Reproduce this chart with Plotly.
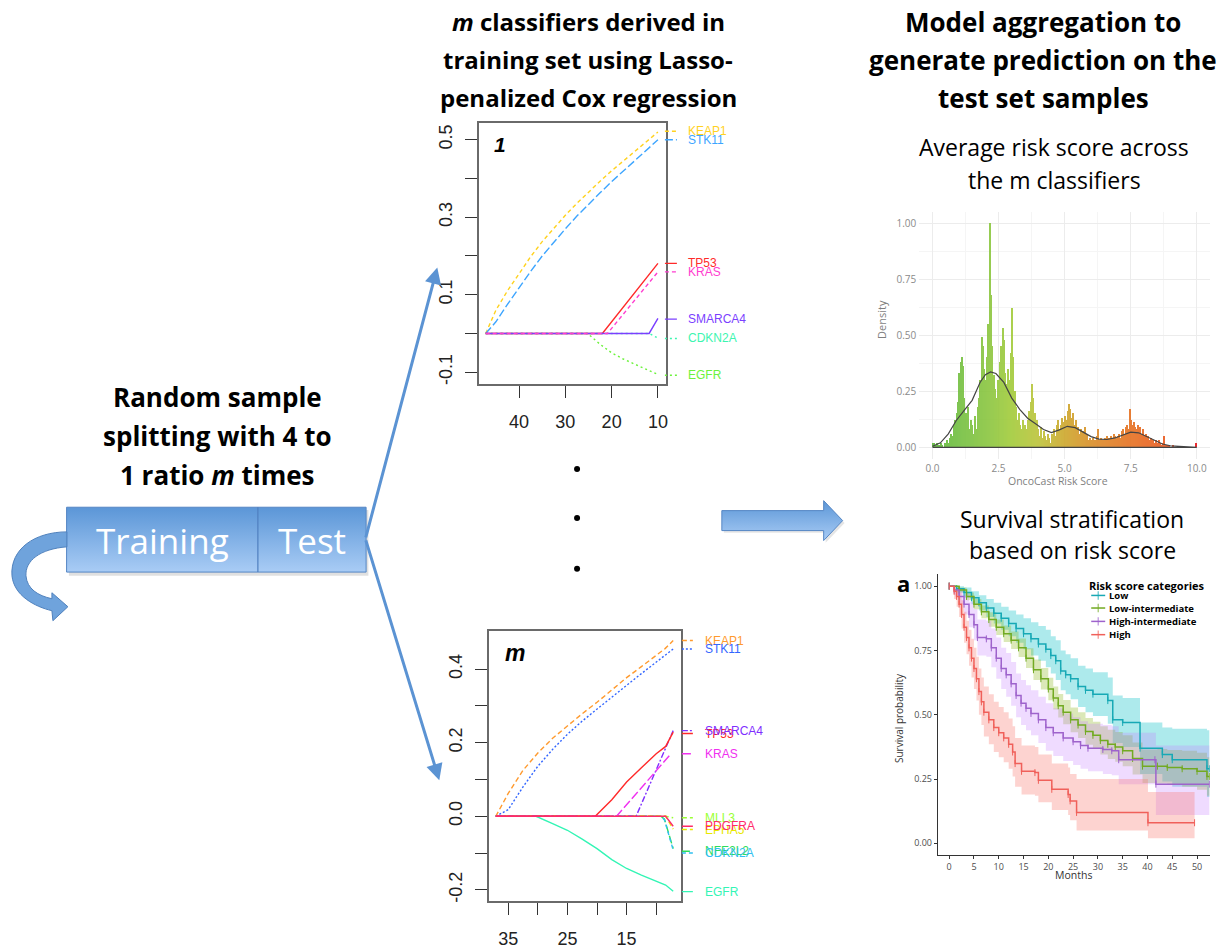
import plotly.graph_objects as go

W, H = 1231, 949


def fx(x):
    return x / W


def fy(y):
    return 1 - y / H


# ================= DATA =================
# ---- Lasso path, classifier 1 (x: lambda / number, y: coefficient)
p1_keap1_lam = [47.2, 45, 42.5, 40, 37.5, 35, 32.5, 30, 27.5, 25, 22.5, 20, 17.5, 15, 12.5, 10]
p1_keap1_coef = [0, 0.06, 0.11, 0.155, 0.198, 0.237, 0.272, 0.305, 0.336, 0.365, 0.393, 0.42, 0.446, 0.47, 0.495, 0.52]
p1_stk11_lam = [47.2, 45, 42.5, 40, 37.5, 35, 32.5, 30, 27.5, 25, 22.5, 20, 17.5, 15, 12.5, 10]
p1_stk11_coef = [0, 0.03, 0.075, 0.118, 0.16, 0.2, 0.236, 0.27, 0.303, 0.334, 0.363, 0.392, 0.419, 0.445, 0.472, 0.50]
p1_tp53_lam = [47.2, 22.0, 10]
p1_tp53_coef = [0, 0, 0.181]
p1_kras_lam = [47.2, 20.9, 10]
p1_kras_coef = [0, 0, 0.159]
p1_smarca4_lam = [47.2, 11.9, 10]
p1_smarca4_coef = [0, 0, 0.039]
p1_cdkn2a_lam = [47.2, 11.9, 10]
p1_cdkn2a_coef = [0, 0, -0.012]
p1_egfr_lam = [47.2, 25.2, 22.5, 20, 17.5, 15, 12.5, 10]
p1_egfr_coef = [0, 0, -0.028, -0.05, -0.066, -0.079, -0.093, -0.106]

p1_label_names = ["KEAP1", "STK11", "TP53", "KRAS", "SMARCA4", "CDKN2A", "EGFR"]
p1_label_values = [0.522, 0.50, 0.181, 0.159, 0.037, -0.013, -0.108]
p1_x_ticks = [40, 30, 20, 10]
p1_y_ticks = [-0.1, 0, 0.1, 0.2, 0.3, 0.4, 0.5]
p1_y_ticktext = ["-0.1", "", "0.1", "", "0.3", "", "0.5"]

# ---- Lasso path, classifier m
pm_keap1_lam = [37.1, 35, 32.5, 30, 27.5, 25, 22.5, 20, 17.5, 15, 12.5, 10, 8.5, 7.13]
pm_keap1_coef = [0, 0.062, 0.125, 0.172, 0.212, 0.246, 0.279, 0.31, 0.344, 0.377, 0.407, 0.437, 0.456, 0.478]
pm_stk11_lam = [37.1, 35, 32.5, 30, 27.5, 25, 22.5, 20, 17.5, 15, 12.5, 10, 8.5, 7.13]
pm_stk11_coef = [0, 0.018, 0.08, 0.136, 0.182, 0.223, 0.259, 0.292, 0.324, 0.356, 0.388, 0.419, 0.437, 0.455]
pm_tp53_lam = [37.1, 20.3, 17.5, 15, 12.5, 10, 8.4, 7.13]
pm_tp53_coef = [0, 0, 0.045, 0.093, 0.132, 0.17, 0.19, 0.229]
pm_kras_lam = [37.1, 16.7, 7.5]
pm_kras_coef = [0, 0, 0.17]
pm_smarca4_lam = [37.1, 13.4, 7.13]
pm_smarca4_coef = [0, 0, 0.233]
pm_mll3_lam = [37.1, 8.4, 7.13]
pm_mll3_coef = [0, 0, -0.004]
pm_pdgfra_lam = [37.1, 8.4, 7.13]
pm_pdgfra_coef = [0, 0, -0.027]
pm_epha5_lam = [37.1, 8.4, 7.13]
pm_epha5_coef = [0, 0, -0.035]
pm_nfe2l2_lam = [37.1, 9.2, 8.6, 7.13]
pm_nfe2l2_coef = [0, 0, -0.008, -0.088]
pm_cdkn2a_lam = [37.1, 9.2, 8.6, 7.13]
pm_cdkn2a_coef = [0, 0, -0.01, -0.092]
pm_egfr_lam = [37.1, 30.3, 27.5, 25, 22.5, 20, 17.5, 15, 12.5, 10, 8.4, 7.13]
pm_egfr_coef = [0, 0, -0.02, -0.038, -0.062, -0.088, -0.118, -0.142, -0.16, -0.176, -0.187, -0.204]

pm_label_names = ["KEAP1", "STK11", "TP53", "SMARCA4", "KRAS", "MLL3", "EPHA5", "PDGFRA", "NFE2L2", "CDKN2A", "EGFR"]
pm_label_values = [0.478, 0.455, 0.225, 0.233, 0.17, -0.004, -0.036, -0.027, -0.095, -0.1, -0.205]
pm_x_ticks = [35, 30, 25, 20, 15, 10]
pm_x_ticktext = ["35", "", "25", "", "15", ""]
pm_y_ticks = [-0.2, -0.1, 0, 0.1, 0.2, 0.3, 0.4]
pm_y_ticktext = ["-0.2", "", "0.0", "", "0.2", "", "0.4"]

# ---- Histogram of average risk score (bin width 0.05 from 0 to 10)
hist_bin_start = 0.0
hist_bin_width = 0.05
hist_density = [
    0.02, 0.02, 0.01, 0.02, 0.0, 0.01, 0.02, 0.01, 0.0, 0.02,
    0.02, 0.03, 0.02, 0.04, 0.06, 0.05, 0.10, 0.12, 0.15, 0.20,
    0.33, 0.38, 0.40, 0.36, 0.22, 0.15, 0.12, 0.18, 0.08, 0.12,
    0.10, 0.06, 0.14, 0.08, 0.18, 0.22, 0.30, 0.49, 0.45, 0.35,
    0.30, 0.40, 0.55, 1.00, 0.68, 0.45, 0.32, 0.26, 0.22, 0.30,
    0.25, 0.38, 0.45, 0.53, 0.48, 0.33, 0.28, 0.35, 0.30, 0.42,
    0.62, 0.40, 0.25, 0.18, 0.12, 0.15, 0.10, 0.08, 0.12, 0.06,
    0.10, 0.08, 0.12, 0.16, 0.20, 0.28, 0.22, 0.15, 0.10, 0.12,
    0.08, 0.05, 0.09, 0.04, 0.07, 0.05, 0.03, 0.06, 0.04, 0.02,
    0.06, 0.04, 0.08, 0.05, 0.10, 0.12, 0.08, 0.10, 0.13, 0.11,
    0.14, 0.12, 0.16, 0.19, 0.17, 0.13, 0.15, 0.10, 0.12, 0.08,
    0.09, 0.06, 0.08, 0.05, 0.07, 0.09, 0.04, 0.06, 0.03, 0.04,
    0.03, 0.04, 0.02, 0.03, 0.05, 0.08, 0.03, 0.04, 0.02, 0.03,
    0.04, 0.03, 0.05, 0.04, 0.03, 0.05, 0.04, 0.06, 0.05, 0.04,
    0.05, 0.06, 0.04, 0.07, 0.08, 0.06, 0.09, 0.10, 0.08, 0.17,
    0.12, 0.10, 0.11, 0.09, 0.08, 0.10, 0.07, 0.09, 0.06, 0.08,
    0.05, 0.06, 0.04, 0.05, 0.03, 0.04, 0.02, 0.03, 0.02, 0.03,
    0.02, 0.03, 0.02, 0.01, 0.02, 0.05, 0.01, 0.01, 0.0, 0.01,
    0.0, 0.0, 0.005, 0.0, 0.0, 0.0, 0.0, 0.0, 0.0, 0.0,
    0.0, 0.0, 0.0, 0.0, 0.0, 0.0, 0.0, 0.0, 0.0, 0.02,
]
dens_x = [0, 0.3, 0.6, 0.9, 1.2, 1.5, 1.8, 2.0, 2.2, 2.4, 2.7, 3.0, 3.3, 3.6, 3.9, 4.2, 4.5, 4.8, 5.1,
          5.4, 5.7, 6.0, 6.3, 6.6, 6.9, 7.2, 7.5, 7.8, 8.1, 8.4, 8.7, 9.0, 9.5, 10, 10, 0]
dens_y = [0.005, 0.02, 0.06, 0.12, 0.165, 0.21, 0.29, 0.325, 0.337, 0.33, 0.29, 0.22, 0.17, 0.13, 0.105,
          0.08, 0.066, 0.078, 0.094, 0.088, 0.068, 0.048, 0.037, 0.035, 0.042, 0.055, 0.068, 0.065,
          0.048, 0.03, 0.015, 0.007, 0.002, 0.0, 0.0, 0.0]
hist_x_ticks = [0, 2.5, 5, 7.5, 10]
hist_x_ticktext = ["0.0", "2.5", "5.0", "7.5", "10.0"]
hist_y_ticks = [0, 0.25, 0.5, 0.75, 1.0]
hist_y_ticktext = ["0.00", "0.25", "0.50", "0.75", "1.00"]

# ---- Kaplan-Meier curves by risk score category
km_groups = ["Low", "Low-intermediate", "High-intermediate", "High"]
km_low_t = [0, 1.5, 3, 4.5, 6, 7.5, 9, 10.5, 12, 13.5, 15, 16.5, 18, 19.5, 20.5, 21.5, 22.5, 23.5, 24.5, 26,
            27.5, 29, 32, 33, 35, 38.5, 43, 45, 52, 52.5]
km_low_s = [1, .99, .975, .955, .935, .915, .895, .875, .855, .835, .815, .795, .775, .755, .73, .71, .67, .655,
            .64, .61, .595, .58, .555, .48, .47, .37, .345, .325, .29, .29]
km_low_lo = [1, .975, .955, .93, .905, .88, .855, .83, .805, .78, .755, .73, .71, .685, .66, .635, .595, .58,
             .56, .53, .51, .495, .465, .39, .375, .27, .24, .22, .18, .18]
km_low_up = [1, 1.0, .995, .98, .965, .95, .935, .92, .905, .89, .875, .86, .845, .83, .805, .79, .75, .735,
             .72, .69, .68, .665, .645, .575, .565, .47, .45, .445, .44, .44]

km_lowint_t = [0, 2, 3.5, 5, 6.5, 8, 9.5, 11, 12.5, 14, 15.5, 17, 18.5, 20, 21, 22, 23, 24.5, 26, 27.5, 29,
               30.5, 32, 33.5, 35, 37, 39, 42, 44, 47, 50, 52, 52.5]
km_lowint_s = [1, .985, .96, .93, .90, .87, .84, .815, .79, .76, .72, .675, .64, .60, .565, .535, .51, .48,
               .46, .435, .42, .40, .385, .375, .36, .33, .30, .30, .295, .29, .28, .26, .26]
km_lowint_lo = [1, .975, .945, .91, .875, .842, .81, .783, .756, .724, .682, .635, .598, .556, .52, .489,
                .463, .432, .41, .383, .367, .345, .328, .317, .30, .268, .235, .233, .227, .22, .208, .185, .185]
km_lowint_up = [1, .995, .975, .95, .925, .898, .87, .847, .824, .796, .758, .715, .682, .644, .61, .581,
                .557, .528, .51, .487, .473, .455, .442, .433, .42, .392, .365, .367, .363, .36, .352, .335, .335]

km_highint_t = [0, 1, 2, 3, 4, 5, 5.7, 7.5, 8.5, 9.5, 10.5, 11.5, 12.5, 13.5, 14.5, 15.5, 16.5, 18, 19.5, 21,
                23, 25, 26.5, 28, 31, 32.8, 34.2, 41.5, 41.7, 52.5]
km_highint_s = [1, .985, .96, .93, .89, .85, .80, .795, .76, .72, .68, .655, .62, .575, .545, .525, .505,
                .48, .45, .43, .41, .395, .38, .37, .365, .36, .325, .325, .23, .23]
km_highint_lo = [1, .965, .93, .89, .84, .79, .73, .725, .685, .64, .60, .57, .535, .49, .46, .44, .42, .39,
                 .36, .34, .32, .305, .29, .28, .27, .265, .23, .23, .11, .11]
km_highint_up = [1, 1.0, .99, .97, .94, .91, .87, .865, .835, .80, .76, .74, .705, .66, .635, .615, .595,
                 .57, .545, .525, .505, .49, .475, .465, .46, .455, .43, .43, .38, .38]

km_high_t = [0, 1, 1.5, 2, 2.5, 3, 3.5, 4, 4.5, 5, 5.5, 6, 6.5, 7, 8, 9, 10, 11, 12, 12.8, 13.3, 14.6,
             17.3, 18, 20.7, 24, 24.4, 25.7, 40.1, 49.5]
km_high_s = [1, .98, .96, .93, .89, .84, .80, .76, .72, .68, .64, .59, .55, .51, .48, .45, .43, .41, .385,
             .355, .31, .28, .275, .245, .21, .19, .165, .12, .08, .08]
km_high_lo = [1, .95, .92, .88, .835, .78, .735, .69, .645, .6, .555, .5, .46, .415, .385, .355, .335, .315,
              .29, .26, .22, .19, .185, .16, .13, .11, .09, .05, .02, .02]
km_high_up = [1, 1.0, .995, .975, .945, .9, .865, .83, .795, .76, .725, .68, .645, .61, .58, .55, .53, .51,
              .485, .455, .41, .38, .375, .345, .31, .295, .27, .25, .2, .2]

km_x_ticks = [0, 5, 10, 15, 20, 25, 30, 35, 40, 45, 50]
km_y_ticks = [0, 0.25, 0.5, 0.75, 1.0]
km_y_ticktext = ["0.00", "0.25", "0.50", "0.75", "1.00"]

# ================= STYLE =================
LASSO_FONT = "Liberation Sans"
TITLE_FONT = "Open Sans"
GG_FONT = "Open Sans"
ARROW_BLUE = "#5B93D3"

fig = go.Figure()


def lasso_line(lam, coef, color, dash, xa, ya):
    fig.add_trace(go.Scatter(x=lam, y=coef, mode="lines", line=dict(color=color, dash=dash, width=1.4),
                             xaxis=xa, yaxis=ya, showlegend=False, hoverinfo="skip"))


# ---- panel 1 lines
p1_styles = {
    "KEAP1": ("#FFD21F", "4px,3px"), "STK11": ("#3DA5FF", "8px,3px"), "TP53": ("#FF2A2A", "solid"),
    "KRAS": ("#FF3DD0", "4px,3px"), "SMARCA4": ("#7B3FFF", "solid"), "CDKN2A": ("#3DF5B0", "2px,3px"),
    "EGFR": ("#6CF23C", "2px,3px"),
}
lasso_line(p1_egfr_lam, p1_egfr_coef, *p1_styles["EGFR"], "x", "y")
lasso_line(p1_cdkn2a_lam, p1_cdkn2a_coef, *p1_styles["CDKN2A"], "x", "y")
lasso_line(p1_keap1_lam, p1_keap1_coef, *p1_styles["KEAP1"], "x", "y")
lasso_line(p1_stk11_lam, p1_stk11_coef, *p1_styles["STK11"], "x", "y")
lasso_line(p1_tp53_lam, p1_tp53_coef, *p1_styles["TP53"], "x", "y")
lasso_line(p1_smarca4_lam, p1_smarca4_coef, *p1_styles["SMARCA4"], "x", "y")
lasso_line(p1_kras_lam, p1_kras_coef, *p1_styles["KRAS"], "x", "y")

# ---- panel m lines
pm_styles = {
    "KEAP1": ("#FF9A2E", "5px,3px"), "STK11": ("#3366FF", "2px,2px"), "TP53": ("#FF2A2A", "solid"),
    "SMARCA4": ("#7F2FFF", "6px,2px,2px,2px"), "KRAS": ("#F030F0", "9px,3px"), "MLL3": ("#99FF33", "5px,3px"),
    "EPHA5": ("#E8E800", "5px,3px"), "PDGFRA": ("#FF2A6A", "solid"), "NFE2L2": ("#2EDC5A", "8px,3px"),
    "CDKN2A": ("#30C0F0", "4px,3px"), "EGFR": ("#33F5B5", "solid"),
}
lasso_line(pm_egfr_lam, pm_egfr_coef, *pm_styles["EGFR"], "x2", "y2")
lasso_line(pm_keap1_lam, pm_keap1_coef, *pm_styles["KEAP1"], "x2", "y2")
lasso_line(pm_stk11_lam, pm_stk11_coef, *pm_styles["STK11"], "x2", "y2")
lasso_line(pm_nfe2l2_lam, pm_nfe2l2_coef, *pm_styles["NFE2L2"], "x2", "y2")
lasso_line(pm_cdkn2a_lam, pm_cdkn2a_coef, *pm_styles["CDKN2A"], "x2", "y2")
lasso_line(pm_mll3_lam, pm_mll3_coef, *pm_styles["MLL3"], "x2", "y2")
lasso_line(pm_epha5_lam, pm_epha5_coef, *pm_styles["EPHA5"], "x2", "y2")
lasso_line(pm_smarca4_lam, pm_smarca4_coef, *pm_styles["SMARCA4"], "x2", "y2")
lasso_line(pm_kras_lam, pm_kras_coef, *pm_styles["KRAS"], "x2", "y2")
lasso_line(pm_tp53_lam, pm_tp53_coef, *pm_styles["TP53"], "x2", "y2")
lasso_line(pm_pdgfra_lam, pm_pdgfra_coef, *pm_styles["PDGFRA"], "x2", "y2")

# ---- histogram
hist_x = [hist_bin_start + hist_bin_width * (i + 0.5) for i in range(len(hist_density))]
fig.add_trace(go.Bar(
    x=hist_x, y=hist_density, width=hist_bin_width * 0.95, xaxis="x3", yaxis="y3", showlegend=False,
    hoverinfo="skip", opacity=0.9,
    marker=dict(color=hist_x, cmin=0, cmax=10, line=dict(width=0),
                colorscale=[[0, "#5DB83A"], [0.1, "#72BF40"], [0.22, "#8CC63F"], [0.3, "#A2CB3A"],
                            [0.4, "#BCC43A"], [0.5, "#CDA82C"], [0.62, "#DB8A27"], [0.75, "#E67222"],
                            [0.88, "#EA5A1F"], [1, "#E8141A"]]),
))
fig.add_trace(go.Scatter(x=dens_x, y=dens_y, mode="lines", line=dict(color="#444444", width=1.2),
                         xaxis="x3", yaxis="y3", showlegend=False, hoverinfo="skip"))

# ---- Kaplan-Meier
km_line_colors = ["#17A9B5", "#72AA22", "#9E63CC", "#F0605A"]
km_fill_colors = ["rgba(0,191,196,0.32)", "rgba(124,174,0,0.28)", "rgba(199,124,255,0.28)",
                  "rgba(248,118,109,0.32)"]
km_data = [
    (km_low_t, km_low_s, km_low_lo, km_low_up),
    (km_lowint_t, km_lowint_s, km_lowint_lo, km_lowint_up),
    (km_highint_t, km_highint_s, km_highint_lo, km_highint_up),
    (km_high_t, km_high_s, km_high_lo, km_high_up),
]
for (t, s, lo, up), fc in zip(km_data, km_fill_colors):
    fig.add_trace(go.Scatter(x=t, y=lo, mode="lines", line=dict(width=0, shape="hv"), xaxis="x4",
                             yaxis="y4", showlegend=False, hoverinfo="skip"))
    fig.add_trace(go.Scatter(x=t, y=up, mode="lines", line=dict(width=0, shape="hv"), fill="tonexty",
                             fillcolor=fc, xaxis="x4", yaxis="y4", showlegend=False, hoverinfo="skip"))
for (t, s, lo, up), lc in zip(km_data, km_line_colors):
    fig.add_trace(go.Scatter(x=t, y=s, mode="lines+markers", line=dict(width=1.5, color=lc, shape="hv"),
                             marker=dict(symbol="line-ns-open", size=5, line=dict(width=1, color=lc)),
                             xaxis="x4", yaxis="y4", showlegend=False, hoverinfo="skip"))

# ---- overlay (pixel coordinates) decorations
fig.add_trace(go.Scatter(x=[69, 369, 369, 69, 69], y=[511, 511, 577, 577, 511], fill="toself",
                         fillcolor="rgba(0,0,0,0.12)", line=dict(width=0), mode="lines",
                         xaxis="x5", yaxis="y5", showlegend=False, hoverinfo="skip"))
fig.add_trace(go.Scatter(x=[66.7, 366.7, 366.7, 66.7, 66.7], y=[508.3, 508.3, 573.3, 573.3, 508.3],
                         fill="toself", mode="lines", line=dict(color="#5586C4", width=1),
                         fillgradient=dict(type="vertical", colorscale=[[0, "#A9CCF5"], [1, "#5B96D7"]]),
                         xaxis="x5", yaxis="y5", showlegend=False, hoverinfo="skip"))
fig.add_trace(go.Scatter(x=[725, 827, 827, 846, 827, 827, 725, 725],
                         y=[514, 514, 504, 524, 544, 534, 534, 514], fill="toself",
                         fillcolor="rgba(0,0,0,0.10)", line=dict(width=0), mode="lines",
                         xaxis="x5", yaxis="y5", showlegend=False, hoverinfo="skip"))
fig.add_trace(go.Scatter(x=[723, 825, 825, 844, 825, 825, 723, 723],
                         y=[511.7, 511.7, 501.7, 521.7, 541.7, 531.7, 531.7, 511.7], fill="toself",
                         mode="lines", line=dict(color="#5586C4", width=1),
                         fillgradient=dict(type="vertical", colorscale=[[0, "#A9CCF5"], [1, "#5B96D7"]]),
                         xaxis="x5", yaxis="y5", showlegend=False, hoverinfo="skip"))
fig.add_trace(go.Scatter(x=[578, 578, 578], y=[470, 519, 570], mode="markers",
                         marker=dict(color="black", size=6), xaxis="x5", yaxis="y5",
                         showlegend=False, hoverinfo="skip"))

legend_y = [596.7, 609.3, 622.7, 636]
for yy, lc in zip(legend_y, km_line_colors):
    fig.add_trace(go.Scatter(x=[1093, 1100, 1107], y=[yy, yy, yy], mode="lines+markers",
                             line=dict(color=lc, width=1.5),
                             marker=dict(symbol="line-ns-open", size=[0, 6, 0], line=dict(width=1.2, color=lc)),
                             xaxis="x5", yaxis="y5", showlegend=False, hoverinfo="skip"))

shapes = []
annotations = []

shapes.append(dict(type="line", xref="x5", yref="y5", x0=258.3, x1=258.3, y0=508.3, y1=573.3,
                   line=dict(color="#4F7FBF", width=1.2)))
shapes.append(dict(type="path", xref="x5", yref="y5",
                   path="M 67,533 C 35,533 10,550 12,577 C 14,597 35,608 52,612 L 53,622 L 68,608 "
                        "L 52,594 L 52,600 C 38,597 27,590 26,577 C 25,562 40,550 67,548 Z",
                   fillcolor="#6FA3DC", line=dict(color="#4F81BD", width=1)))

for name, val in zip(p1_label_names, p1_label_values):
    col, dash = p1_styles[name]
    shapes.append(dict(type="line", xref="paper", yref="y", x0=fx(666), x1=fx(678), y0=val, y1=val,
                       line=dict(color=col, width=1.4, dash=dash)))
    annotations.append(dict(text=name, xref="paper", yref="y", x=fx(687), y=val, xanchor="left",
                            yanchor="middle", showarrow=False,
                            font=dict(family=LASSO_FONT, size=12, color=col)))
for name, val in zip(pm_label_names, pm_label_values):
    col, dash = pm_styles[name]
    shapes.append(dict(type="line", xref="paper", yref="y2", x0=fx(683), x1=fx(694), y0=val, y1=val,
                       line=dict(color=col, width=1.4, dash=dash)))
    annotations.append(dict(text=name, xref="paper", yref="y2", x=fx(704), y=val, xanchor="left",
                            yanchor="middle", showarrow=False,
                            font=dict(family=LASSO_FONT, size=12, color=col)))


def txt(text, x, y, size, color="black", family=TITLE_FONT, anchor="center", angle=0):
    annotations.append(dict(text=text, xref="x5", yref="y5", x=x, y=y, xanchor=anchor, yanchor="middle",
                            showarrow=False, textangle=angle, font=dict(family=family, size=size, color=color)))


txt("<b><i>1</i></b>", 501, 145, 21, family=LASSO_FONT)
txt("<b><i>m</i></b>", 516, 654, 23, family=LASSO_FONT)

for i, line in enumerate(["<b><i>m</i> classifiers derived in</b>", "<b>training set using Lasso-</b>",
                          "<b>penalized Cox regression</b>"]):
    txt(line, 589, 22 + 38 * i, 24)
for i, line in enumerate(["<b>Model aggregation to</b>", "<b>generate prediction on the</b>",
                          "<b>test set samples</b>"]):
    txt(line, 1045, 22 + 38 * i, 26)
for i, line in enumerate(["<b>Random sample</b>", "<b>splitting with 4 to</b>",
                          "<b>1 ratio <i>m</i> times</b>"]):
    txt(line, 218, 398 + 39 * i, 26)
txt("Average risk score across", 1056, 147, 23)
txt("the m classifiers", 1056, 180, 23)
txt("Survival stratification", 1074, 520, 23)
txt("based on risk score", 1074, 551, 23)
txt("Training", 162.5, 542, 35, color="white")
txt("Test", 312.5, 542, 35, color="white")

txt("Density", 883, 320, 11, color="#7F7F7F", family=GG_FONT, angle=-90)
txt("OncoCast Risk Score", 1060, 482, 10.5, color="#7F7F7F", family=GG_FONT)
txt("Survival probability", 901, 720, 10, color="#333333", family=GG_FONT, angle=-90)
txt("Months", 1075, 877, 10.5, color="#333333", family=GG_FONT)
txt("<b>a</b>", 905, 584, 22, family=GG_FONT)
txt("<b>Risk score categories</b>", 1089, 586.5, 11, family=GG_FONT, anchor="left")
for yy, g in zip(legend_y, km_groups):
    txt("<b>" + g + "</b>", 1109, yy, 9.5, family=GG_FONT, anchor="left")

for hx, hy in [(438, 268), (440, 782)]:
    annotations.append(dict(text="", xref="x5", yref="y5", axref="x5", ayref="y5", x=hx, y=hy, ax=366, ay=540,
                            showarrow=True, arrowhead=2, arrowsize=1.1, arrowwidth=3, arrowcolor=ARROW_BLUE,
                            standoff=0, startstandoff=0))

# ================= AXES =================
lasso_x_common = dict(ticks="outside", ticklen=12, tickwidth=1.3, tickcolor="#333333", showline=True,
                      mirror=True, linecolor="#6A6A6A", linewidth=1.5, showgrid=False, zeroline=False,
                      tickfont=dict(family=LASSO_FONT, size=18, color="#222222"), ticklabelstandoff=8)
lasso_y_common = dict(ticks="outside", ticklen=12, tickwidth=1.3, tickcolor="#333333", showline=True,
                      mirror=True, linecolor="#6A6A6A", linewidth=1.5, showgrid=False, zeroline=False,
                      tickfont=dict(family=LASSO_FONT, size=18, color="#222222"), tickangle=-90,
                      ticklabelstandoff=6)

layout = dict(
    width=W, height=H, margin=dict(l=0, r=0, t=0, b=0), paper_bgcolor="white",
    plot_bgcolor="rgba(0,0,0,0)", showlegend=False, bargap=0,
    xaxis=dict(domain=[fx(480), fx(666.7)], range=[48.6, 8.34], tickvals=p1_x_ticks, anchor="y",
               **lasso_x_common),
    yaxis=dict(domain=[fy(385), fy(123)], range=[-0.131, 0.544], tickvals=p1_y_ticks,
               ticktext=p1_y_ticktext, anchor="x", **lasso_y_common),
    xaxis2=dict(domain=[fx(489.3), fx(681.7)], range=[38.33, 5.88], tickvals=pm_x_ticks,
                ticktext=pm_x_ticktext, anchor="y2", **lasso_x_common),
    yaxis2=dict(domain=[fy(903.3), fy(632.3)], range=[-0.2315, 0.504], tickvals=pm_y_ticks,
                ticktext=pm_y_ticktext, anchor="x2", **lasso_y_common),
    xaxis3=dict(domain=[fx(920.75), fx(1212)], range=[-0.5, 10.5], tickvals=hist_x_ticks,
                ticktext=hist_x_ticktext, anchor="y3", showgrid=True, gridcolor="#ECECEC", gridwidth=1,
                minor=dict(dtick=1.25, tick0=0, showgrid=True, gridcolor="#F5F5F5"), zeroline=False,
                showline=False, ticks="", tickfont=dict(family=GG_FONT, size=10, color="#8A8A8A"),
                ticklabelstandoff=2),
    yaxis3=dict(domain=[fy(459.5), fy(212.8)], range=[-0.05, 1.05], tickvals=hist_y_ticks,
                ticktext=hist_y_ticktext, anchor="x3", showgrid=True, gridcolor="#ECECEC", gridwidth=1,
                minor=dict(dtick=0.125, tick0=0, showgrid=True, gridcolor="#F5F5F5"), zeroline=False,
                showline=False, ticks="", tickfont=dict(family=GG_FONT, size=10, color="#8A8A8A"),
                ticklabelstandoff=2),
    xaxis4=dict(domain=[fx(939.3), fx(1211.7)], range=[-2.3, 52.56], tickvals=km_x_ticks, anchor="y4",
                showline=True, linecolor="#333333", linewidth=1, ticks="outside", ticklen=3,
                tickcolor="#333333", showgrid=False, zeroline=False,
                tickfont=dict(family=GG_FONT, size=9, color="#4D4D4D")),
    yaxis4=dict(domain=[fy(856.7), fy(575)], range=[-0.045, 1.048], tickvals=km_y_ticks,
                ticktext=km_y_ticktext, anchor="x4", showline=True, linecolor="#333333", linewidth=1,
                ticks="outside", ticklen=3, tickcolor="#333333", showgrid=False, zeroline=False,
                tickfont=dict(family=GG_FONT, size=9, color="#4D4D4D")),
    xaxis5=dict(domain=[0, 1], range=[0, W], visible=False, anchor="y5", fixedrange=True),
    yaxis5=dict(domain=[0, 1], range=[H, 0], visible=False, anchor="x5", fixedrange=True),
    shapes=shapes, annotations=annotations,
)
fig.update_layout(**layout)
fig.write_html("out.html")
